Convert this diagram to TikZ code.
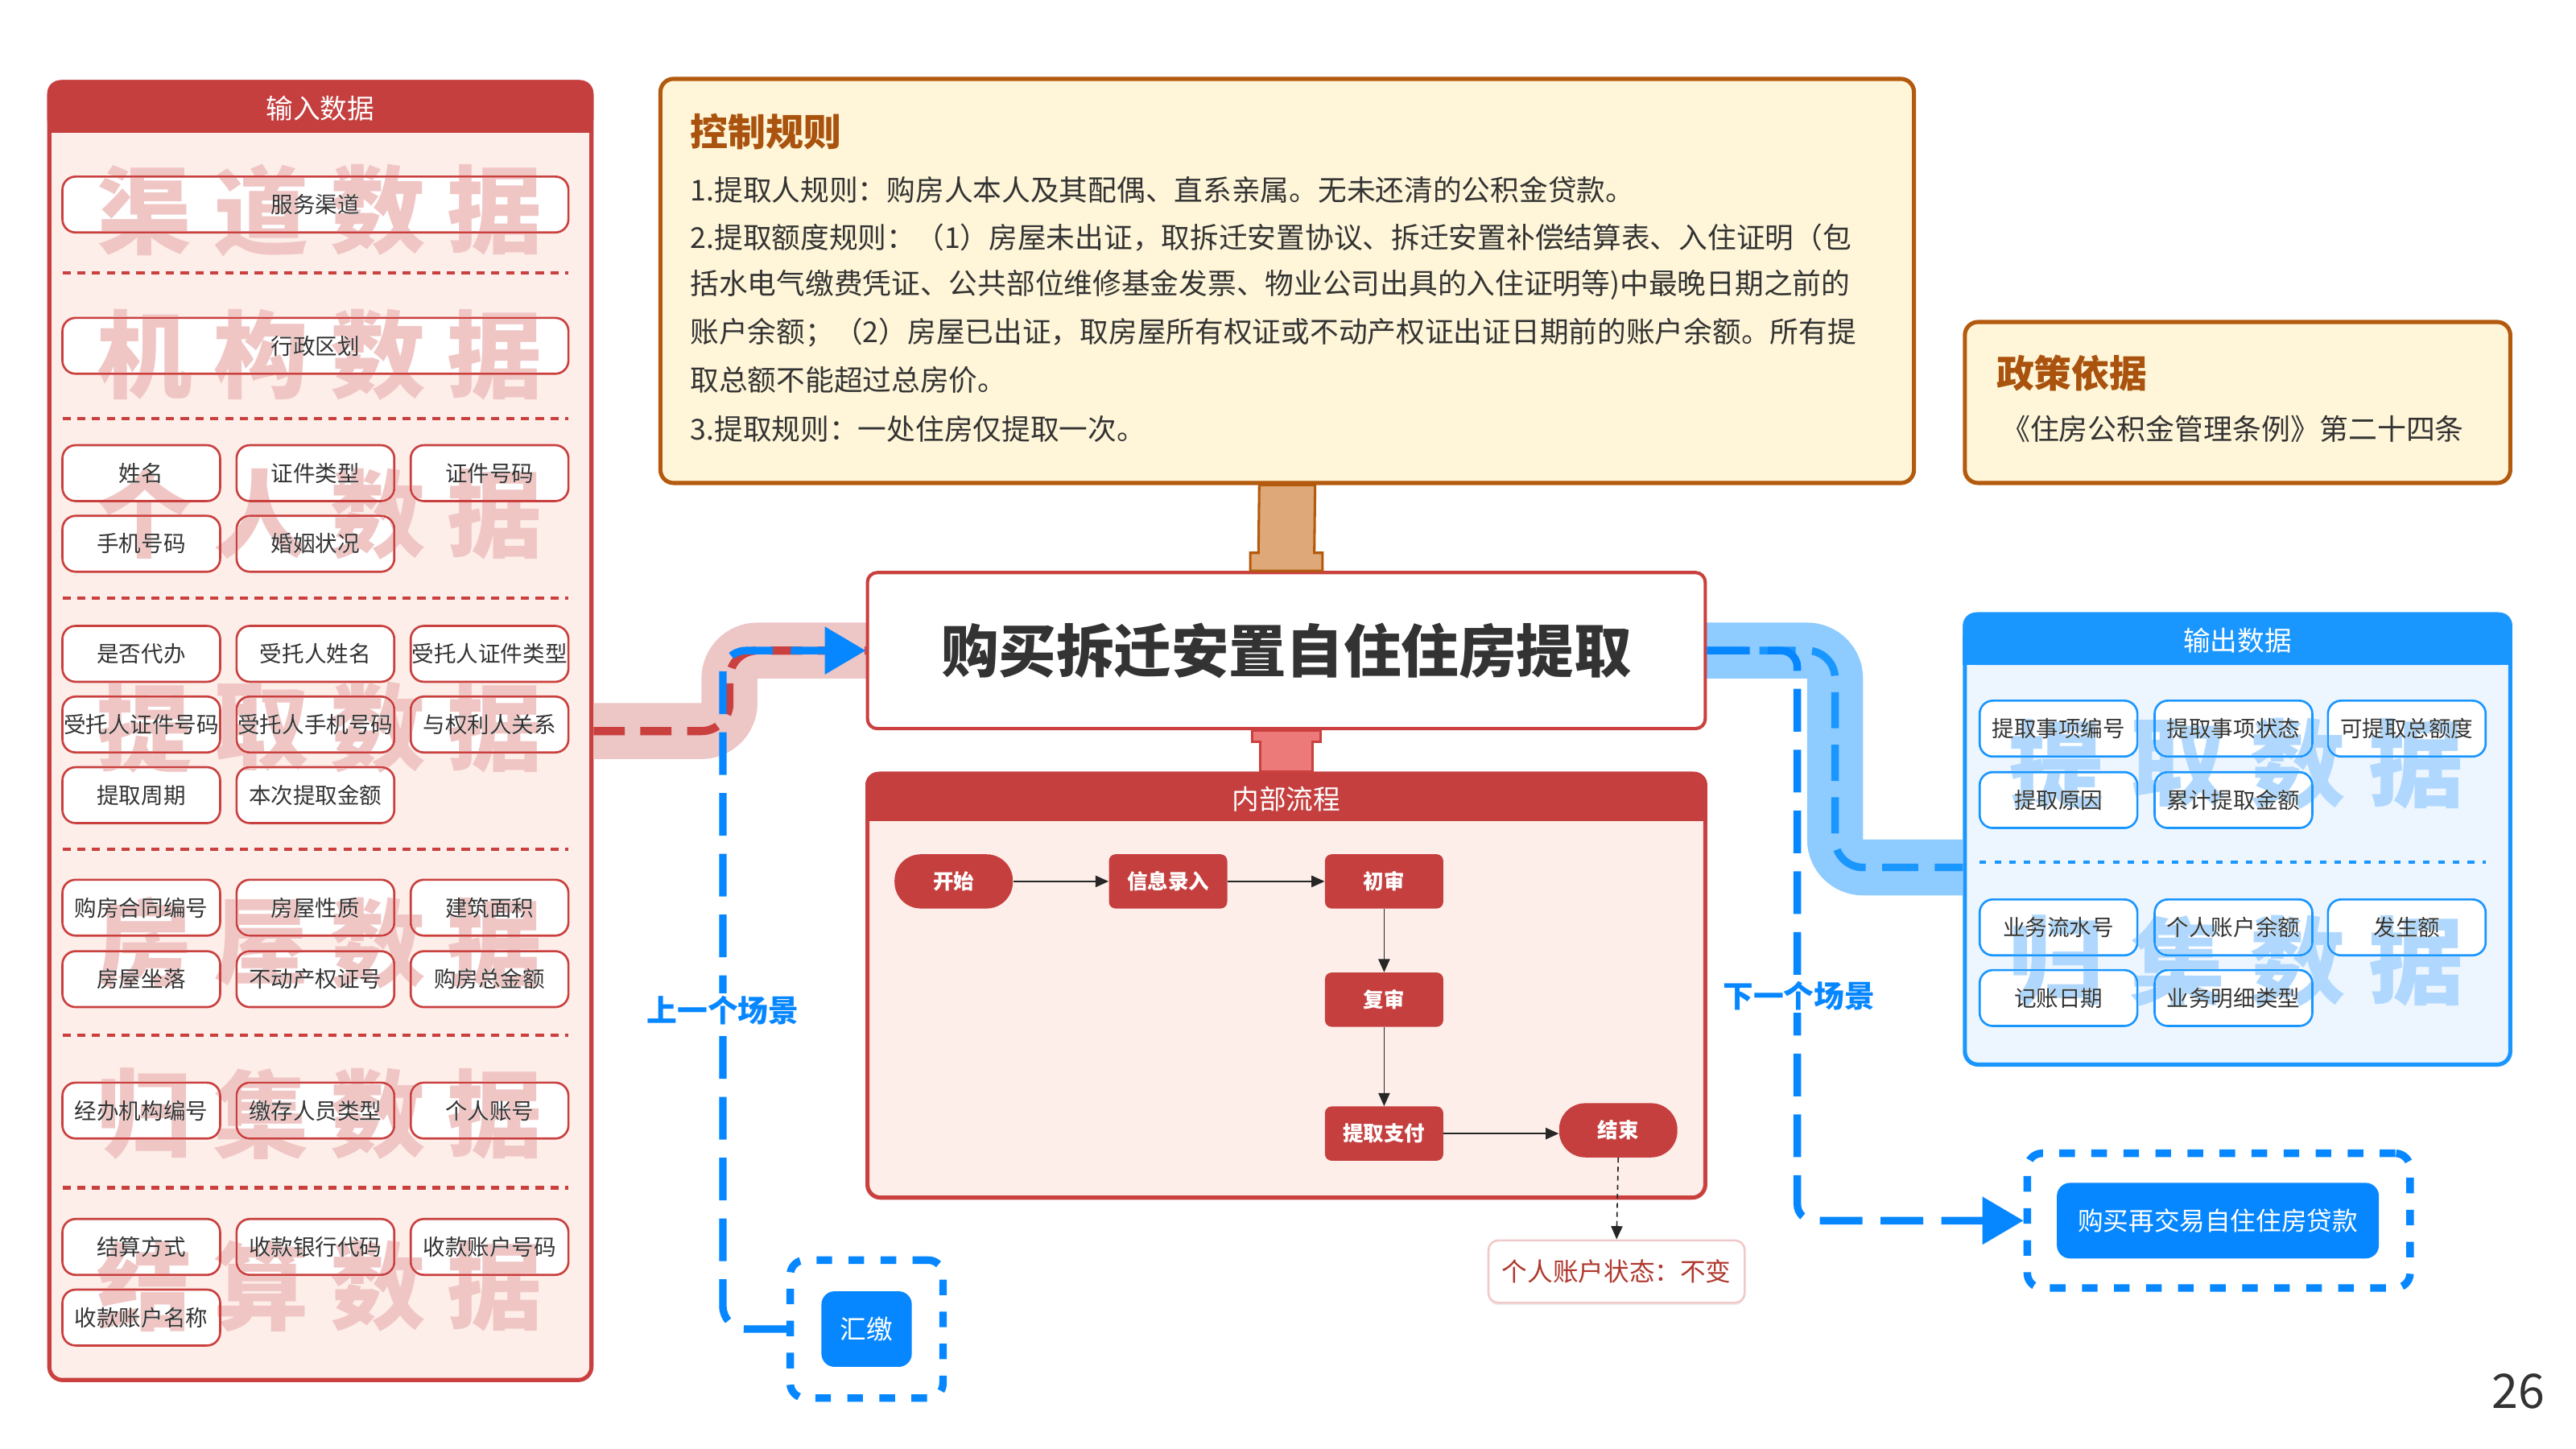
\documentclass[tikz,border=0pt]{standalone}
\usepackage{fontspec}
\setmainfont{Noto Sans CJK SC}
\usetikzlibrary{arrows.meta,calc,shadows}
\definecolor{redc}{HTML}{C53F3F}
\definecolor{redln}{HTML}{C9403F}
\definecolor{redbody}{HTML}{FDEEE9}
\definecolor{redwm}{HTML}{F0C6C5}
\definecolor{bluec}{HTML}{1A96FF}
\definecolor{bluebody}{HTML}{EDF6FF}
\definecolor{bluewm}{HTML}{B0D8FF}
\definecolor{bluedk}{HTML}{0787FF}
\definecolor{bandpink}{HTML}{EDC6C6}
\definecolor{bandblue}{HTML}{8ECBFF}
\definecolor{creamc}{HTML}{FFF6D9}
\definecolor{brownc}{HTML}{B35A0E}
\definecolor{browntxt}{HTML}{A9530E}
\definecolor{tanc}{HTML}{DFA878}
\definecolor{stempk}{HTML}{EC7A78}
\definecolor{txt}{HTML}{333333}
\definecolor{statetxt}{HTML}{B0382E}
\definecolor{statebd}{HTML}{F0CACA}
\tikzset{
  inbox/.style={draw=redln, fill=white, line width=1.3pt, rounded corners=8pt,
    minimum width=96pt, minimum height=34pt, inner sep=0pt, text=txt,
    font=\fontsize{13.5}{15}\selectfont},
  inwide/.style={inbox, minimum width=308pt},
  outbox/.style={inbox, draw=bluec},
  sepred/.style={draw=redln, line width=2pt, dash pattern=on 5pt off 4pt},
  sepblue/.style={draw=bluec, line width=2pt, dash pattern=on 4pt off 5pt},
  wmred/.style={text=redwm, inner sep=0pt, font=\fontsize{58}{60}\selectfont\bfseries},
  wmblue/.style={wmred, text=bluewm},
  redpanel/.style={draw=redln, fill=redbody, line width=2.5pt, rounded corners=8pt, inner sep=0pt},
  bluepanel/.style={draw=bluec, fill=bluebody, line width=2.5pt, rounded corners=8pt, inner sep=0pt},
  hdr/.style={text=white, inner sep=0pt, font=\fontsize{16.5}{18}\selectfont},
  flowbox/.style={fill=redc, text=white, rounded corners=4pt, minimum width=72pt,
    minimum height=33pt, inner sep=0pt, font=\fontsize{12.5}{14}\selectfont\bfseries},
  pill/.style={flowbox, rounded corners=16pt},
  flowarrow/.style={draw=black!85, line width=0.8pt, -{Triangle[length=8pt,width=7pt]}},
  ruletxt/.style={anchor=west, inner sep=0pt, text=txt, font=\fontsize{17.5}{19}\selectfont},
  scenelbl/.style={fill=white, inner sep=1.5pt, text=bluedk, font=\fontsize{18.5}{20}\selectfont\bfseries},
  bigarrow/.style={-{Triangle[length=25pt,width=28pt]}},
}
\begin{document}
\begin{tikzpicture}[x=1pt,y=-1pt]
\useasboundingbox (0,0) rectangle (1568,882);
\fill[white] (0,0) rectangle (1568,882);

% ---------- panels ----------
\node[redpanel, minimum width=330pt, minimum height=790pt] (inp) at (195,445) {};
\node[bluepanel, minimum width=332pt, minimum height=274pt] (outp) at (1362,511) {};
\node[redpanel, minimum width=510pt, minimum height=258pt] (proc) at (783,600) {};
\node[draw=brownc, fill=creamc, line width=2.5pt, rounded corners=8pt, minimum width=763pt, minimum height=246pt] (ctrl) at (783.5,171) {};
\node[draw=brownc, fill=creamc, line width=2.5pt, rounded corners=8pt, minimum width=332pt, minimum height=98pt] (policy) at (1362,245) {};

% headers
\fill[redc, rounded corners=8pt] (inp.north west) rectangle ($(inp.north east)+(0,32)$);
\fill[redc] ($(inp.north west)+(0,14)$) rectangle ($(inp.north east)+(0,32)$);
\node[hdr] (inph) at (195,66) {输入数据};
\fill[bluec, rounded corners=8pt] (outp.north west) rectangle ($(outp.north east)+(0,32)$);
\fill[bluec] ($(outp.north west)+(0,14)$) rectangle ($(outp.north east)+(0,32)$);
\node[hdr] (outph) at (1362,390) {输出数据};
\fill[redc, rounded corners=8pt] (proc.north west) rectangle ($(proc.north east)+(0,30)$);
\fill[redc] ($(proc.north west)+(0,14)$) rectangle ($(proc.north east)+(0,30)$);
\node[hdr] (proch) at (783,486.5) {内部流程};

% ---------- bands and stems ----------
\draw[line width=34pt, bandpink, rounded corners=17pt] (inp.east) -- (444,445) -- (444,396) -- (528,396);
\draw[line width=34pt, bandblue, rounded corners=17pt] (1038,396) -- (1117,396) -- (1117,528) -- ($(outp.west)+(0,17)$);

\node[draw=redln, fill=white, line width=2pt, rounded corners=6pt, minimum width=510pt,
  minimum height=95pt, text=txt, font=\fontsize{35}{40}\selectfont\bfseries] (title) at (783,396) {购买拆迁安置自住住房提取};

\filldraw[fill=tanc, draw=brownc, line width=1.5pt]
  ($(ctrl.south)+(-17,0)$) -- ($(title.north)+(-17,-11)$) -- ($(title.north)+(-22,-11)$) --
  ($(title.north)+(-22,0)$) -- ($(title.north)+(22,0)$) -- ($(title.north)+(22,-11)$) --
  ($(title.north)+(17,-11)$) -- ($(ctrl.south)+(17,0)$) -- cycle;
\filldraw[fill=stempk, draw=redln, line width=1.5pt]
  ($(title.south)+(-21,0)$) -- ($(title.south)+(-21,7)$) -- ($(title.south)+(-16,7)$) --
  ($(proc.north)+(-16,0)$) -- ($(proc.north)+(16,0)$) -- ($(title.south)+(16,7)$) --
  ($(title.south)+(21,7)$) -- ($(title.south)+(21,0)$) -- cycle;

% dashed lines in bands
\draw[redln, line width=5pt, dash pattern=on 19pt off 9.5pt, rounded corners=17pt]
  (inp.east) -- (444,445) -- (444,396) -- (title.west);
\draw[bluec, line width=4.6pt, dash pattern=on 22pt off 10pt, rounded corners=17pt]
  (title.east) -- (1117,396) -- (1117,528) -- ($(outp.west)+(0,17)$);

% ---------- control rules ----------
\node[anchor=west, inner sep=0pt, text=browntxt, font=\fontsize{23}{25}\selectfont\bfseries] (ctitle) at (420,80) {控制规则};
\node[ruletxt] (r1) at (420,115.7) {1.提取人规则：购房人本人及其配偶、直系亲属。无未还清的公积金贷款。};
\node[ruletxt] (r2) at (420,144.6) {2.提取额度规则：（1）房屋未出证，取拆迁安置协议、拆迁安置补偿结算表、入住证明（包};
\node[ruletxt] (r3) at (420,173.5) {括水电气缴费凭证、公共部位维修基金发票、物业公司出具的入住证明等)中最晚日期之前的};
\node[ruletxt] (r4) at (420,202.4) {账户余额；（2）房屋已出证，取房屋所有权证或不动产权证出证日期前的账户余额。所有提};
\node[ruletxt] (r5) at (420,231.3) {取总额不能超过总房价。};
\node[ruletxt] (r6) at (420,261) {3.提取规则：一处住房仅提取一次。};

% ---------- policy ----------
\node[anchor=west, inner sep=0pt, text=browntxt, font=\fontsize{23}{25}\selectfont\bfseries] (ptitle) at (1215,227) {政策依据};
\node[anchor=west, inner sep=0pt, text=txt, font=\fontsize{17.6}{20}\selectfont] (ptext) at (1218,261) {《住房公积金管理条例》第二十四条};

% ---------- input items ----------
\node[inwide] (i01) at (192,124.5) {服务渠道};
\node[inwide] (i02) at (192,210.5) {行政区划};
\node[inbox] (i03) at (86,288) {姓名};
\node[inbox] (i04) at (192,288) {证件类型};
\node[inbox] (i05) at (298,288) {证件号码};
\node[inbox] (i06) at (86,331) {手机号码};
\node[inbox] (i07) at (192,331) {婚姻状况};
\node[inbox] (i08) at (86,398) {是否代办};
\node[inbox] (i09) at (192,398) {受托人姓名};
\node[inbox] (i10) at (298,398) {受托人证件类型};
\node[inbox] (i11) at (86,441) {受托人证件号码};
\node[inbox] (i12) at (192,441) {受托人手机号码};
\node[inbox] (i13) at (298,441) {与权利人关系};
\node[inbox] (i14) at (86,484) {提取周期};
\node[inbox] (i15) at (192,484) {本次提取金额};
\node[inbox] (i16) at (86,552.5) {购房合同编号};
\node[inbox] (i17) at (192,552.5) {房屋性质};
\node[inbox] (i18) at (298,552.5) {建筑面积};
\node[inbox] (i19) at (86,596) {房屋坐落};
\node[inbox] (i20) at (192,596) {不动产权证号};
\node[inbox] (i21) at (298,596) {购房总金额};
\node[inbox] (i22) at (86,676) {经办机构编号};
\node[inbox] (i23) at (192,676) {缴存人员类型};
\node[inbox] (i24) at (298,676) {个人账号};
\node[inbox] (i25) at (86,759) {结算方式};
\node[inbox] (i26) at (192,759) {收款银行代码};
\node[inbox] (i27) at (298,759) {收款账户号码};
\node[inbox] (i28) at (86,802) {收款账户名称};
\foreach \yy in {166,255,364,517,630,723} \draw[sepred] (38,\yy) -- (346,\yy);

% ---------- output items ----------
\node[outbox] (o01) at (1253,443.5) {提取事项编号};
\node[outbox] (o02) at (1359.5,443.5) {提取事项状态};
\node[outbox] (o03) at (1465,443.5) {可提取总额度};
\node[outbox] (o04) at (1253,487) {提取原因};
\node[outbox] (o05) at (1359.5,487) {累计提取金额};
\node[outbox] (o06) at (1253,564.5) {业务流水号};
\node[outbox] (o07) at (1359.5,564.5) {个人账户余额};
\node[outbox] (o08) at (1465,564.5) {发生额};
\node[outbox] (o09) at (1253,607.5) {记账日期};
\node[outbox] (o10) at (1359.5,607.5) {业务明细类型};
\draw[sepblue] (1205,525) -- (1513,525);

% ---------- watermarks ----------
\begin{scope}[blend mode=darken]
\foreach \a/\b/\c/\d/\yy/\nm in {渠/道/数/据/128/wa, 机/构/数/据/216/wb, 个/人/数/据/313/wc, 提/取/数/据/443/wd, 房/屋/数/据/574/we, 归/集/数/据/678/wf, 结/算/数/据/783/wg}{
  \node[wmred] (\nm1) at (88,\yy) {\a};
  \node[wmred] (\nm2) at (159,\yy) {\b};
  \node[wmred] (\nm3) at (230,\yy) {\c};
  \node[wmred] (\nm4) at (301,\yy) {\d};
}
\foreach \a/\b/\c/\d/\yy/\nm in {提/取/数/据/465/wh, 归/集/数/据/585/wi}{
  \node[wmblue] (\nm1) at (1252,\yy) {\a};
  \node[wmblue] (\nm2) at (1326,\yy) {\b};
  \node[wmblue] (\nm3) at (1399,\yy) {\c};
  \node[wmblue] (\nm4) at (1471,\yy) {\d};
}
\end{scope}

% ---------- internal flow ----------
\node[pill] (st) at (580.5,536.5) {开始};
\node[flowbox] (f1) at (711,536.5) {信息录入};
\node[flowbox] (f2) at (842.5,536.5) {初审};
\node[flowbox] (f3) at (842.5,608.5) {复审};
\node[flowbox] (f4) at (842.5,690) {提取支付};
\node[pill] (en) at (985,688) {结束};
\node[draw=statebd, fill=white, line width=1.3pt, rounded corners=6pt, minimum width=156pt,
  minimum height=38pt, inner sep=0pt, text=statetxt, font=\fontsize{15.5}{17}\selectfont,
  drop shadow={opacity=0.12, shadow xshift=0pt, shadow yshift=-1.5pt}] (stt) at (984,774) {个人账户状态：不变};
\draw[flowarrow] (st) -- (f1);
\draw[flowarrow] (f1) -- (f2);
\draw[flowarrow] (f2) -- (f3);
\draw[flowarrow] (f3) -- (f4);
\draw[flowarrow] (f4.east) -- (f4.east -| en.west);
\draw[flowarrow, dash pattern=on 3pt off 2.5pt] (en.south) -- (stt.north);

% ---------- scene boxes ----------
\node[draw=bluedk, line width=4.6pt, dash pattern=on 9.5pt off 10pt, rounded corners=9pt,
  minimum width=93pt, minimum height=84pt] (hjo) at (527.5,809) {};
\node[fill=bluedk, rounded corners=8pt, minimum width=55pt, minimum height=46pt, inner sep=0pt,
  text=white, font=\fontsize{16}{18}\selectfont] (hj) at (527.5,809) {汇缴};
\node[draw=bluedk, line width=4.6pt, dash pattern=on 9.5pt off 10pt, rounded corners=9pt,
  minimum width=233pt, minimum height=82pt] (nxo) at (1350.5,743) {};
\node[fill=bluedk, rounded corners=8pt, minimum width=196pt, minimum height=46pt, inner sep=0pt,
  text=white, font=\fontsize{15.5}{17}\selectfont] (nx) at (1350,743) {购买再交易自住住房贷款};

% scene connectors
\draw[bluedk, line width=4.6pt, dash pattern=on 26pt off 11pt, rounded corners=14pt, bigarrow]
  (hjo.west) -- (440,809) -- (440,396) -- (title.west);
\draw[bluedk, line width=4.6pt, dash pattern=on 26pt off 11pt, rounded corners=10pt, bigarrow]
  (title.east) -- (1094,396) -- (1094,743) -- (nxo.west);
\node[scenelbl] (prev) at (440,615) {上一个场景};
\node[scenelbl] (next) at (1095,606) {下一个场景};

% page number
\node[inner sep=0pt, text=txt, font=\fontsize{29}{30}\selectfont] (pg) at (1533,847) {26};
\end{tikzpicture}
\end{document}
